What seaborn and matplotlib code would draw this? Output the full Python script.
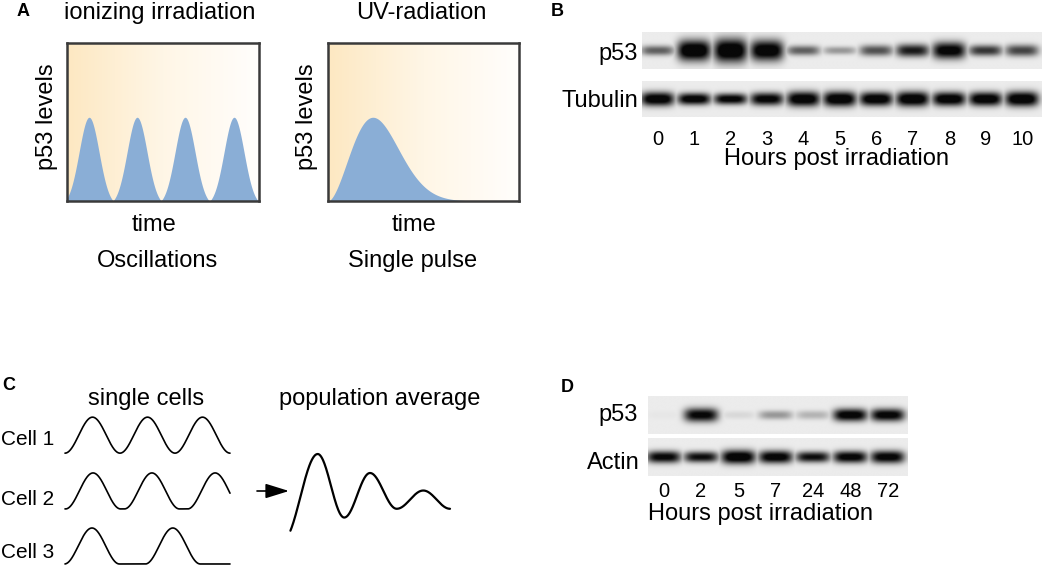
import numpy as np
import matplotlib
matplotlib.use('Agg')
import matplotlib.pyplot as plt
from matplotlib.colors import LinearSegmentedColormap
import seaborn as sns

# ---- A: schematic p53 dynamics (box width = 1, box height = 1) ----
ir_peak_times = [0.115, 0.365, 0.615, 0.87]
ir_peak_height = 0.53
ir_peak_width = 0.052
uv_peak_time = 0.235
uv_peak_height = 0.53
uv_shape = 1.7

# ---- B: western blot, hours post irradiation ----
b_hours = ['0', '1', '2', '3', '4', '5', '6', '7', '8', '9', '10']
b_p53_intensity = [0.5, 1.0, 1.0, 0.95, 0.5, 0.3, 0.55, 0.75, 0.9, 0.65, 0.6]
b_p53_thickness = [0.27, 0.57, 0.65, 0.57, 0.27, 0.22, 0.30, 0.35, 0.46, 0.30, 0.32]
b_tub_intensity = [0.95, 0.92, 0.88, 0.88, 0.95, 0.97, 0.95, 0.97, 0.95, 0.95, 0.97]
b_tub_thickness = [0.39, 0.33, 0.31, 0.36, 0.42, 0.42, 0.39, 0.42, 0.39, 0.39, 0.42]

# ---- C: single cells vs population average ----
cell_names = ['Cell 1', 'Cell 2', 'Cell 3']
cell_pulse_times = [[0.5, 1.5, 2.5], [0.51, 1.58, 2.73], [0.49, 1.96]]
pulse_halfwidth = 0.5
pop_times = [-0.044, 0.173, 0.339, 0.5, 0.667, 0.833, 1.0]
pop_levels = [-0.18, 1.0, 0.13, 0.74, 0.25, 0.5, 0.25]

# ---- D: western blot, hours post irradiation ----
d_hours = ['0', '2', '5', '7', '24', '48', '72']
d_p53_intensity = [0.02, 0.85, 0.07, 0.3, 0.2, 0.9, 0.88]
d_p53_thickness = [0.21, 0.37, 0.21, 0.24, 0.24, 0.34, 0.34]
d_act_intensity = [0.85, 0.8, 0.95, 0.9, 0.8, 0.88, 0.88]
d_act_thickness = [0.32, 0.29, 0.37, 0.34, 0.29, 0.32, 0.34]

sns.set_theme(style='white')
plt.rcParams['font.family'] = ['Liberation Sans', 'DejaVu Sans']
plt.rcParams['text.color'] = 'black'
plt.rcParams['xtick.color'] = 'black'

W, H = 1050, 566
fig = plt.figure(figsize=(W / 100, H / 100), dpi=100)


def px_axes(x0, y0, x1, y1):
    return fig.add_axes([x0 / W, 1 - y1 / H, (x1 - x0) / W, (y1 - y0) / H])


# panel A boxes
grad = LinearSegmentedColormap.from_list('grad', ['#fde8c2', '#fff6e6', '#fffefc'])
t = np.linspace(0, 1, 800)

g = np.max([np.exp(-(t - c) ** 2 / (2 * ir_peak_width ** 2)) for c in ir_peak_times], axis=0)
half_gap = np.mean(np.diff(ir_peak_times)) / 2
floor = np.exp(-half_gap ** 2 / (2 * ir_peak_width ** 2))
ir_curve = ir_peak_height * np.clip((g - floor) / (1 - floor), 0, None)

r = t / uv_peak_time
uv_curve = uv_peak_height * r ** uv_shape * np.exp(uv_shape / 2 * (1 - r ** 2))

for rect, curve in [((67, 43, 259, 201), ir_curve), ((328, 43, 519, 201), uv_curve)]:
    ax = px_axes(*rect)
    ax.imshow(np.linspace(0, 1, 256)[None, :], cmap=grad, extent=(0, 1, 0, 1),
              aspect='auto', zorder=0)
    ax.fill_between(t, 0, curve, color='#8aaed6', lw=0, zorder=1)
    ax.set_xlim(0, 1)
    ax.set_ylim(0, 1)
    ax.set_xticks([])
    ax.set_yticks([])
    for s in ax.spines.values():
        s.set_visible(True)
        s.set_linewidth(1.8)
        s.set_color('#3a3a3a')
        s.set_zorder(3)


def blot(ax, intens, thick, labels=None, pad=0):
    n = len(intens)
    xlim = (-0.42, n - 1 + 0.54)
    xs = np.linspace(xlim[0], xlim[1], 500)
    ys = np.linspace(0, 1, 80)
    X, Y = np.meshgrid(xs, ys)
    dark = np.zeros_like(X)
    for i, (a, h) in enumerate(zip(intens, thick)):
        prof = np.exp(-np.abs((X - i) / 0.46) ** 4) * np.exp(-np.abs((Y - 0.5) / (h / 2)) ** 2.2)
        dark = np.maximum(dark, a * prof)
    img = 0.925 * (1 - np.clip(1.2 * dark, 0, 0.97))
    ax.imshow(img, cmap='gray', vmin=0, vmax=1, extent=(xlim[0], xlim[1], 0, 1),
              aspect='auto', origin='lower', interpolation='bilinear')
    ax.set_xlim(xlim)
    ax.set_ylim(0, 1)
    ax.set_yticks([])
    if labels is None:
        ax.set_xticks([])
    else:
        ax.set_xticks(range(n))
        ax.set_xticklabels(labels, fontsize=14.5, color='black')
        ax.tick_params(axis='x', length=0, pad=pad)
    for s in ax.spines.values():
        s.set_visible(False)


blot(px_axes(642, 32, 1042, 69), b_p53_intensity, b_p53_thickness)
blot(px_axes(642, 81, 1042, 117), b_tub_intensity, b_tub_thickness, b_hours, pad=9.5)
blot(px_axes(648, 396, 908, 434), d_p53_intensity, d_p53_thickness)
blot(px_axes(648, 438, 908, 476), d_act_intensity, d_act_thickness, d_hours, pad=4)

# panel C single cells
axc = px_axes(65, 415, 230, 566)
tc = np.linspace(0, 3, 900)
row_base = [3.08, 1.53, 0.0]
for base, pulses in zip(row_base, cell_pulse_times):
    yy = np.zeros_like(tc)
    for c in pulses:
        d = np.abs(tc - c)
        yy = np.maximum(yy, np.where(d < pulse_halfwidth,
                                     (1 + np.cos(np.pi * d / pulse_halfwidth)) / 2, 0))
    sns.lineplot(x=tc, y=base + yy, ax=axc, color='black', lw=1.2)
axc.set_xlim(0, 3)
axc.set_ylim(-0.056, 4.14)
axc.axis('off')
for ln in axc.lines:
    ln.set_clip_on(False)

# population average: half-cosine segments between the read extrema
axp = px_axes(290, 450, 450, 532)
pt, pv = [], []
for j in range(len(pop_times) - 1):
    s = np.linspace(0, 1, 80)
    pt.append(pop_times[j] + s * (pop_times[j + 1] - pop_times[j]))
    pv.append(pop_levels[j] + (pop_levels[j + 1] - pop_levels[j]) * (1 - np.cos(np.pi * s)) / 2)
pt = np.concatenate(pt)
pv = np.concatenate(pv)
keep = pt >= 0
sns.lineplot(x=pt[keep], y=pv[keep], ax=axp, color='black', lw=1.6, sort=False)
axp.set_xlim(0, 1)
axp.set_ylim(-0.068, 1.055)
axp.axis('off')
for ln in axp.lines:
    ln.set_clip_on(False)

# overlay for text, in pixel coordinates
ov = fig.add_axes([0, 0, 1, 1])
ov.set_xlim(0, W)
ov.set_ylim(H, 0)
ov.axis('off')

big = 17
for x, y, s in [(23, 11, 'A'), (557, 11, 'B'), (9, 386, 'C'), (567, 387, 'D')]:
    ov.text(x, y, s, fontsize=13, fontweight='bold', ha='center', va='center')

ov.text(160, 19, 'ionizing irradiation', fontsize=big, ha='center', va='baseline')
ov.text(421, 19, 'UV-radiation', fontsize=big, ha='center', va='baseline')
ov.text(47, 117, 'p53 levels', fontsize=big, rotation=90, ha='center', va='center')
ov.text(307, 117, 'p53 levels', fontsize=big, rotation=90, ha='center', va='center')
ov.text(154, 231, 'time', fontsize=big, ha='center', va='baseline')
ov.text(414, 231, 'time', fontsize=big, ha='center', va='baseline')
ov.text(158, 267, 'Oscillations', fontsize=big, ha='center', va='baseline')
ov.text(413, 267, 'Single pulse', fontsize=big, ha='center', va='baseline')

ov.text(638, 60, 'p53', fontsize=big, ha='right', va='baseline')
ov.text(638, 107, 'Tubulin', fontsize=big, ha='right', va='baseline')
ov.text(837, 165, 'Hours post irradiation', fontsize=big, ha='center', va='baseline')

ov.text(146, 405, 'single cells', fontsize=big, ha='center', va='baseline')
ov.text(380, 405, 'population average', fontsize=big, ha='center', va='baseline')
for y, name in zip([445, 505, 558], cell_names):
    ov.text(54, y, name, fontsize=15, ha='right', va='baseline')
ov.annotate('', xy=(289, 491), xytext=(257, 491),
            arrowprops=dict(arrowstyle='-|>,head_length=0.9,head_width=0.28',
                            color='black', lw=1.2, shrinkA=0, shrinkB=0, mutation_scale=16))

ov.text(638, 421, 'p53', fontsize=big, ha='right', va='baseline')
ov.text(640, 469, 'Actin', fontsize=big, ha='right', va='baseline')
ov.text(761, 520, 'Hours post irradiation', fontsize=big, ha='center', va='baseline')

fig.savefig('out.png', dpi=100)
